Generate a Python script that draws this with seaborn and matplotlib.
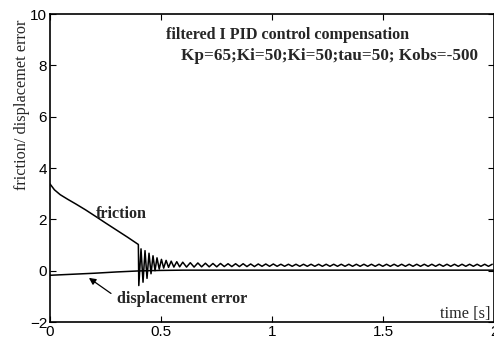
import numpy as np
import pandas as pd
import matplotlib
matplotlib.use("Agg")
import matplotlib.pyplot as plt
import seaborn as sns

# friction: smooth decay, sudden drop at 0.4 s, then damped ringing
friction_t = [0.000, 0.020, 0.046, 0.080, 0.116, 0.160, 0.208, 0.250, 0.300, 0.350,
              0.398, 0.400, 0.410, 0.419, 0.428, 0.437, 0.446, 0.455, 0.464, 0.473,
              0.482, 0.492, 0.502, 0.512, 0.523, 0.534, 0.546, 0.558, 0.571, 0.584,
              0.598, 0.615, 0.632, 0.649, 0.666, 0.683, 0.700, 0.717, 0.734, 0.751,
              0.768, 0.785, 0.802, 0.819, 0.836, 0.853, 0.870, 0.887, 0.904, 0.921,
              0.938, 0.955, 0.972, 0.989, 1.006, 1.023, 1.040, 1.057, 1.074, 1.091,
              1.108, 1.125, 1.142, 1.159, 1.176, 1.193, 1.210, 1.227, 1.244, 1.261,
              1.278, 1.295, 1.312, 1.329, 1.346, 1.363, 1.380, 1.397, 1.414, 1.431,
              1.448, 1.465, 1.482, 1.499, 1.516, 1.533, 1.550, 1.567, 1.584, 1.601,
              1.618, 1.635, 1.652, 1.669, 1.686, 1.703, 1.720, 1.737, 1.754, 1.771,
              1.788, 1.805, 1.822, 1.839, 1.856, 1.873, 1.890, 1.907, 1.924, 1.941,
              1.958, 1.975, 1.992]
friction_v = [3.38, 3.15, 2.96, 2.78, 2.60, 2.37, 2.10, 1.86, 1.58, 1.30,
              1.02, -0.58, 0.85, -0.45, 0.78, -0.30, 0.68, -0.12, 0.58, 0.00,
              0.50, 0.06, 0.44, 0.10, 0.40, 0.13, 0.37, 0.14, 0.35, 0.15,
              0.33, 0.14, 0.31, 0.14, 0.30, 0.15, 0.29, 0.15, 0.28, 0.15,
              0.28, 0.16, 0.27, 0.16, 0.27, 0.16, 0.27, 0.16, 0.26, 0.16,
              0.26, 0.17, 0.26, 0.17, 0.26, 0.17, 0.25, 0.17, 0.25, 0.17,
              0.25, 0.17, 0.25, 0.17, 0.25, 0.17, 0.25, 0.17, 0.25, 0.17,
              0.25, 0.17, 0.25, 0.17, 0.25, 0.17, 0.25, 0.17, 0.25, 0.17,
              0.25, 0.17, 0.25, 0.17, 0.25, 0.17, 0.25, 0.17, 0.25, 0.17,
              0.25, 0.17, 0.25, 0.17, 0.25, 0.17, 0.25, 0.17, 0.25, 0.17,
              0.25, 0.17, 0.25, 0.17, 0.25, 0.17, 0.25, 0.17, 0.25, 0.17,
              0.25, 0.17, 0.25]

# displacement error
disp_t = [0.00, 0.10, 0.20, 0.30, 0.40, 0.50, 0.60, 1.00, 1.50, 2.00]
disp_v = [-0.18, -0.14, -0.10, -0.05, -0.01, 0.01, 0.02, 0.02, 0.02, 0.02]

x_ticks = [0, 0.5, 1, 1.5, 2]
x_labels = ["0", "0.5", "1", "1.5", "2"]
y_ticks = [-2, 0, 2, 4, 6, 8, 10]

sns.set_style("ticks")
plt.rcParams["font.family"] = ["Liberation Sans", "DejaVu Sans"]

fig = plt.figure(figsize=(4.94, 3.40), dpi=100)
ax = fig.add_axes([50 / 494, 18 / 340, 444 / 494, 308 / 340])

fr = pd.DataFrame({"t": friction_t, "v": friction_v})
de = pd.DataFrame({"t": disp_t, "v": disp_v})
sns.lineplot(data=fr, x="t", y="v", ax=ax, color="black", lw=1.1, estimator=None, sort=False)
sns.lineplot(data=de, x="t", y="v", ax=ax, color="black", lw=1.1, estimator=None, sort=False)

ax.set_xlim(0, 2)
ax.set_ylim(-2, 10)
ax.set_xticks(x_ticks)
ax.set_xticklabels(x_labels)
ax.set_yticks(y_ticks)
ax.tick_params(direction="in", top=True, right=True, length=4, width=0.8,
               labelsize=11, pad=2, colors="black")
for s in ax.spines.values():
    s.set_linewidth(1.2)
    s.set_color("black")

serif = "Liberation Serif"
ax.set_xlabel("")
ax.set_ylabel("friction/ displacemet error", family=serif, fontsize=11.7)
ax.yaxis.set_label_coords(-0.045, 0.705)

ax.text(1.068, 9.2, "filtered I PID control compensation", family=serif,
        fontweight="bold", fontsize=11.6, ha="center", va="center")
ax.text(1.257, 8.35, "Kp=65;Ki=50;Ki=50;tau=50; Kobs=-500", family=serif,
        fontweight="bold", fontsize=12.3, ha="center", va="center")
ax.text(0.32, 2.22, "friction", family=serif, fontweight="bold", fontsize=11.6,
        ha="center", va="center")
ax.text(0.593, -1.09, "displacement error", family=serif, fontweight="bold",
        fontsize=11.6, ha="center", va="center")
ax.annotate("", xy=(0.165, -0.22), xytext=(0.285, -0.95),
            arrowprops=dict(arrowstyle="-|>", color="black", lw=0.9,
                            mutation_scale=10))
ax.text(1.87, -1.67, "time [s]", family=serif, fontsize=11.7, ha="center", va="center")

fig.savefig("out.png", dpi=100)
